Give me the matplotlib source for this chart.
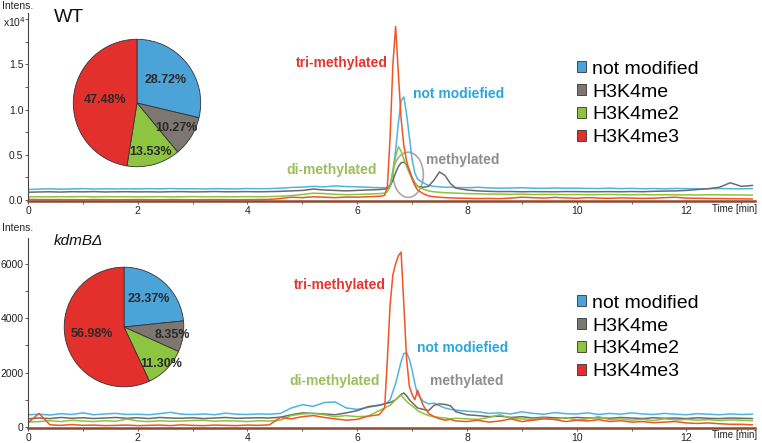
import numpy as np
import matplotlib
matplotlib.use("Agg")
import matplotlib.pyplot as plt
from matplotlib.patches import Ellipse, Patch
from matplotlib.ticker import MultipleLocator, FixedLocator, FuncFormatter

# ---------------- data ----------------
times = [0.0, 0.2, 0.4, 0.6, 0.8, 1.0, 1.2, 1.4, 1.6, 1.8, 2.0,
         2.2, 2.4, 2.6, 2.8, 3.0, 3.2, 3.4, 3.6, 3.8, 4.0, 4.2,
         4.4, 4.6, 4.8, 5.0, 5.2, 5.4, 5.6, 5.8, 6.0, 6.2, 6.4,
         6.5, 6.55, 6.6, 6.65, 6.7, 6.75, 6.8, 6.85, 6.9, 6.95, 7.0, 7.05, 7.1,
         7.2, 7.3, 7.4, 7.5, 7.6, 7.7, 7.8,
         8.0, 8.2, 8.4, 8.6, 8.8, 9.0, 9.2, 9.4, 9.6, 9.8, 10.0, 10.2, 10.4,
         10.6, 10.8, 11.0, 11.2, 11.4, 11.6, 11.8, 12.0, 12.2, 12.4, 12.6, 12.8, 13.0, 13.2]

series_names = ["not modified", "H3K4me", "H3K4me2", "H3K4me3"]

# WT intensities (counts)
wt_unmod = [1150, 1200, 1230, 1190, 1220, 1250, 1200, 1230, 1210, 1240, 1220,
            1250, 1220, 1260, 1230, 1240, 1210, 1250, 1230, 1220, 1260, 1240,
            1250, 1300, 1380, 1420, 1500, 1450, 1550, 1480, 1450, 1400, 1350,
            1350, 1400, 1700, 3200, 5500, 8500, 11000, 11400, 9500, 7000, 4500, 3000, 2300,
            1900, 1600, 1500, 1450, 1400, 1420, 1380,
            1350, 1400, 1330, 1300, 1320, 1350, 1300, 1280, 1320, 1290, 1300, 1270, 1260,
            1300, 1250, 1280, 1240, 1260, 1230, 1270, 1250, 1240, 1230, 1260, 1240, 1230, 1250]
wt_me1 = [850, 880, 900, 870, 910, 890, 920, 880, 900, 910, 890,
          900, 880, 910, 920, 890, 900, 930, 900, 910, 920, 900,
          920, 950, 1000, 1050, 1200, 1100, 1050, 1000, 1050, 1100, 1150,
          1200, 1250, 1500, 2200, 3000, 3700, 4100, 4200, 3900, 3300, 2500, 1900, 1500,
          1400, 1500, 2200, 3100, 2700, 1800, 1300,
          1100, 1000, 950, 920, 930, 900, 920, 910, 900, 930, 920, 900, 910,
          920, 900, 930, 910, 950, 980, 1000, 1050, 1150, 1250, 1400, 1900, 1500, 1600]
wt_me2 = [330, 350, 340, 360, 350, 370, 340, 360, 350, 360, 340,
          350, 360, 340, 350, 370, 350, 360, 340, 350, 360, 350,
          370, 400, 480, 600, 750, 700, 620, 580, 600, 650, 700,
          750, 900, 1500, 3000, 4800, 5900, 5400, 4500, 3700, 3000, 2400, 1900, 1500,
          1200, 1000, 900, 850, 800, 780, 750,
          700, 680, 650, 640, 620, 630, 600, 610, 600, 590, 600, 580, 590,
          600, 580, 570, 590, 560, 580, 570, 560, 550, 570, 560, 550, 540, 530]
wt_me3 = [50, 40, 30, 40, 30, 20, 40, 30, 20, 30, 40,
          30, 20, 40, 30, 20, 30, 40, 30, 20, 30, 40,
          60, 150, 300, 250, 350, 300, 250, 320, 300, 350, 400,
          500, 1500, 7000, 15000, 19200, 14000, 9000, 6000, 4300, 3200, 2300, 1600, 1100,
          700, 450, 350, 300, 250, 230, 200,
          180, 150, 160, 140, 200, 300, 250, 200, 280, 220, 180, 250, 200,
          180, 220, 200, 170, 190, 250, 300, 200, 180, 160, 150, 130, 120, 100]

# kdmB-delta intensities (counts)
kd_unmod = [450, 470, 440, 490, 460, 520, 450, 480, 500, 460, 470,
            450, 490, 540, 470, 460, 480, 450, 510, 470, 460, 480,
            470, 500, 700, 820, 760, 900, 920, 700, 650, 720, 800,
            850, 900, 1000, 1300, 1600, 2000, 2400, 2700, 2720, 2500, 2100, 1600, 1200,
            950, 850, 880, 780, 700, 650, 620,
            580, 560, 500, 520, 480, 560, 500, 470, 530, 490, 480, 520, 460,
            500, 470, 520, 480, 460, 500, 470, 450, 490, 470, 450, 480, 460, 470]
kd_me1 = [300, 330, 310, 350, 320, 340, 310, 330, 350, 320, 340,
          310, 350, 330, 320, 340, 310, 330, 350, 320, 330, 340,
          330, 360, 450, 520, 500, 480, 450, 520, 600, 750, 800,
          850, 880, 900, 950, 1000, 1100, 1200, 1250, 1150, 1000, 900, 800, 700,
          650, 600, 800, 850, 830, 780, 560,
          450, 420, 380, 400, 350, 380, 330, 360, 340, 320, 350, 330, 340,
          320, 350, 330, 310, 340, 320, 330, 310, 340, 320, 310, 330, 320, 310]
kd_me2 = [180, 200, 230, 200, 250, 220, 200, 230, 210, 290, 220,
          200, 230, 210, 220, 240, 250, 210, 230, 220, 200, 230,
          220, 250, 420, 480, 500, 450, 380, 420, 380, 400, 600,
          700, 750, 800, 900, 1000, 1100, 1170, 1050, 950, 850, 780, 700, 600,
          500, 420, 380, 350, 330, 300, 320,
          300, 280, 350, 450, 320, 300, 280, 330, 270, 350, 250, 300, 380,
          270, 300, 250, 280, 240, 300, 260, 280, 250, 270, 240, 260, 250, 230]
kd_me3 = [150, 500, 80, 60, 90, 60, 70, 50, 60, 70, 50,
          60, 70, 50, 80, 60, 50, 70, 60, 50, 70, 60,
          80, 350, 300, 380, 420, 350, 300, 250, 280, 400, 450,
          700, 2500, 4500, 5600, 6000, 6300, 6430, 4500, 2500, 1500, 1200, 1000, 1350,
          800, 500, 380, 300, 250, 280, 220,
          200, 250, 180, 220, 300, 200, 250, 300, 280, 200, 250, 220, 270,
          200, 230, 180, 200, 160, 180, 200, 150, 130, 150, 120, 100, 100, 80]

wt_pie = [28.72, 10.27, 13.53, 47.48]
kd_pie = [23.37, 8.35, 11.30, 56.98]

x_ticks = [0, 2, 4, 6, 8, 10, 12]
wt_yticks = [0, 5000, 10000, 15000]
kd_yticks = [0, 2000, 4000, 6000]

# ---------------- style ----------------
line_colors = ["#4fb3e3", "#6b6b6b", "#8cc43d", "#f05523"]
pie_colors = ["#4ba3d8", "#7e7670", "#8dc440", "#e4302d"]
ann_colors = {"tri": "#e8342d", "not": "#2aa6df", "di": "#9bbf5a", "me": "#8e8e8e"}
FONT = "Liberation Sans"

W, H = 762, 443
fig = plt.figure(figsize=(W / 100, H / 100), dpi=100)


def fx(px):
    return px / W


def fy(py):
    return 1 - py / H


def setup_axis(ax, ylim, yticks, yfmt, yminor):
    ax.set_xlim(0, 13.25)
    ax.set_ylim(*ylim)
    for s in ("top", "right"):
        ax.spines[s].set_visible(False)
    ax.spines["left"].set_color("#444444")
    ax.spines["left"].set_linewidth(0.8)
    ax.spines["bottom"].set_color("#8a4b32")
    ax.spines["bottom"].set_linewidth(1.8)
    ax.set_xticks(x_ticks)
    ax.xaxis.set_minor_locator(FixedLocator([1, 3, 5, 7, 9, 11, 13]))
    ax.set_yticks(yticks)
    ax.yaxis.set_major_formatter(yfmt)
    ax.yaxis.set_minor_locator(MultipleLocator(yminor))
    ax.tick_params(axis="both", which="major", length=2.5, width=0.6, color="#444444",
                   labelsize=7.5, pad=0.8)
    ax.tick_params(axis="both", which="minor", length=2, width=0.6, color="#444444")
    for lab in ax.get_xticklabels() + ax.get_yticklabels():
        lab.set_fontfamily(FONT)
        lab.set_color("#222222")
    ax.patch.set_alpha(0)


def draw_panel(ax, data):
    for vals, c in zip(data, line_colors):
        ax.plot(times, vals, color=c, lw=1.1, solid_joinstyle="round")


def draw_pie(rect, vals, rfrac):
    pax = fig.add_axes(rect)
    wedges, _ = pax.pie(vals, colors=pie_colors, startangle=90, counterclock=False,
                        wedgeprops=dict(edgecolor="#333333", linewidth=0.6))
    for w, v, r in zip(wedges, vals, rfrac):
        ang = np.deg2rad((w.theta1 + w.theta2) / 2)
        pax.text(r * np.cos(ang), r * np.sin(ang), f"{v:.2f}%", ha="center", va="center",
                 fontsize=9, fontweight="bold", color="#2a2a2a", family=FONT)
    pax.set_xlim(-1.02, 1.02)
    pax.set_ylim(-1.02, 1.02)
    pax.set_aspect("equal")
    pax.axis("off")


def legend(ax, top_px):
    handles = [Patch(facecolor=c, edgecolor="#333333", linewidth=0.6) for c in pie_colors]
    leg = ax.legend(handles, series_names, loc="upper left",
                    bbox_to_anchor=(fx(567), fy(top_px)), bbox_transform=fig.transFigure,
                    frameon=False, borderpad=0, handlelength=0.48, handleheight=0.48,
                    handletextpad=0.3, labelspacing=0.3,
                    prop=dict(family=FONT, size=14))
    return leg


def annotate(ax, items):
    for txt, x, y, key in items:
        ax.text(x, y, txt, color=ann_colors[key], fontsize=10, fontweight="bold",
                family=FONT, ha="left", va="center")


# ---------------- top panel (WT) ----------------
ax1 = fig.add_axes([fx(28), fy(201), fx(755 - 28), (201 - 13) / H])
draw_panel(ax1, [wt_unmod, wt_me1, wt_me2, wt_me3])
setup_axis(ax1, (-120, 20700), wt_yticks,
           FuncFormatter(lambda v, p: f"{v / 1e4:.1f}"), 2500)
ax1.add_patch(Ellipse((6.93, 2780), 0.55, 5000, fill=False, edgecolor="#a8a8a8", lw=1.2))
annotate(ax1, [("tri-methylated", 4.89, 15200, "tri"),
               ("not modiefied", 7.02, 11700, "not"),
               ("di-methylated", 4.71, 3330, "di"),
               ("methylated", 7.25, 4440, "me")])
legend(ax1, 51)

# ---------------- bottom panel (kdmB delta) ----------------
ax2 = fig.add_axes([fx(28), fy(428), fx(755 - 28), (428 - 238) / H])
draw_panel(ax2, [kd_unmod, kd_me1, kd_me2, kd_me3])
setup_axis(ax2, (-37, 6950), kd_yticks,
           FuncFormatter(lambda v, p: f"{v:.0f}"), 1000)
annotate(ax2, [("tri-methylated", 4.84, 5220, "tri"),
               ("not modiefied", 7.09, 2900, "not"),
               ("di-methylated", 4.76, 1690, "di"),
               ("methylated", 7.33, 1690, "me")])
legend(ax2, 285)

# pies
draw_pie([fx(137 - 65), fy(103 + 65), 130 / W, 130 / H], wt_pie, [0.57, 0.73, 0.79, 0.51])
draw_pie([fx(124 - 61), fy(327 + 61), 122 / W, 122 / H], kd_pie, [0.62, 0.82, 0.88, 0.55])

# texts
for ytop in (6, 228):
    fig.text(fx(2), fy(ytop), "Intens.", fontsize=7.5, family=FONT, color="#222222",
             ha="left", va="center")
fig.text(fx(3), fy(22), "x10$^{4}$", fontsize=7.5, family=FONT, color="#222222",
         ha="left", va="center")
fig.text(fx(54), fy(18), "WT", fontsize=14, family=FONT, color="#111111",
         ha="left", va="center")
fig.text(fx(54), fy(241), "kdmBΔ", fontsize=11, family=FONT, style="italic",
         color="#111111", ha="left", va="center")
fig.text(fx(712), fy(209), "Time [min]", fontsize=7, family=FONT, color="#222222",
         ha="left", va="center")
fig.text(fx(712), fy(435), "Time [min]", fontsize=7, family=FONT, color="#222222",
         ha="left", va="center")

fig.savefig("out.png", dpi=100, facecolor="white")
